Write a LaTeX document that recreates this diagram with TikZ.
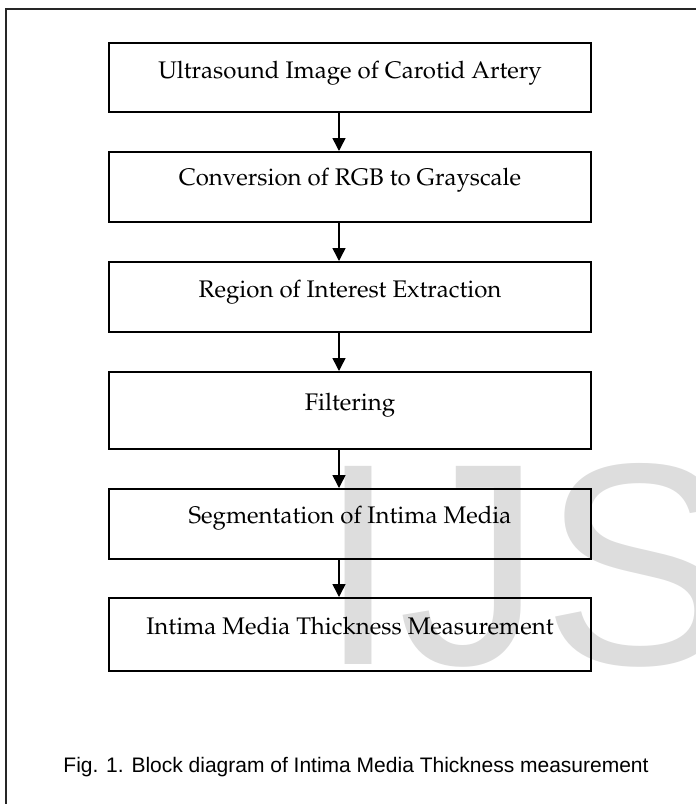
\documentclass[tikz,border=0pt]{standalone}
\usepackage[T1]{fontenc}
\usepackage{fontspec}
\usetikzlibrary{arrows.meta}
\newfontfamily\capfont{Liberation Sans}
\newcommand\palfont{\fontencoding{T1}\fontfamily{ppl}\selectfont}
\definecolor{wmgray}{RGB}{221,221,221}
\tikzset{
  stagebox/.style={draw=black, line width=2pt, minimum width=482pt, inner xsep=0pt, inner ysep=0pt,
    anchor=base, font=\palfont\fontsize{24}{28}\selectfont},
  flowarrow/.style={line width=1.5pt, -{Triangle[length=13pt,width=13pt]}},
}
\begin{document}
\begin{tikzpicture}[x=1pt,y=-1pt]
\useasboundingbox (0,0) rectangle (696,804);
% watermark
\node[anchor=base west, inner sep=0pt, text=wmgray, font=\capfont\fontsize{288}{300}\selectfont] (wm) at (318,664) {IJS};
% frame
\draw[line width=2pt, black!85] (6,804) -- (6,9) -- (696,9);
% boxes
\node[stagebox, text height=35pt, text depth=34pt] (b1) at (350,78) {Ultrasound Image of Carotid Artery};
\node[stagebox, text height=33pt, text depth=37pt] (b2) at (350,185) {Conversion of RGB to Grayscale};
\node[stagebox, text height=35pt, text depth=35pt] (b3) at (350,297) {Region of Interest Extraction};
\node[stagebox, text height=38pt, text depth=39pt] (b4) at (350,410) {Filtering};
\node[stagebox, text height=34pt, text depth=36pt] (b5) at (350,523) {Segmentation of Intima Media};
\node[stagebox, text height=36pt, text depth=37pt] (b6) at (350,634) {Intima Media Thickness Measurement};
% arrows
\foreach \a/\b in {b1/b2,b2/b3,b3/b4,b4/b5,b5/b6}{
  \draw[flowarrow] ([xshift=-11pt]\a.south) -- ([xshift=-11pt]\b.north);
}
% caption
\node[anchor=base, inner sep=0pt, font=\capfont\fontsize{21}{24}\selectfont] (cap) at (356,772) {Fig. 1. Block diagram of Intima Media Thickness measurement};
\end{tikzpicture}
\end{document}
